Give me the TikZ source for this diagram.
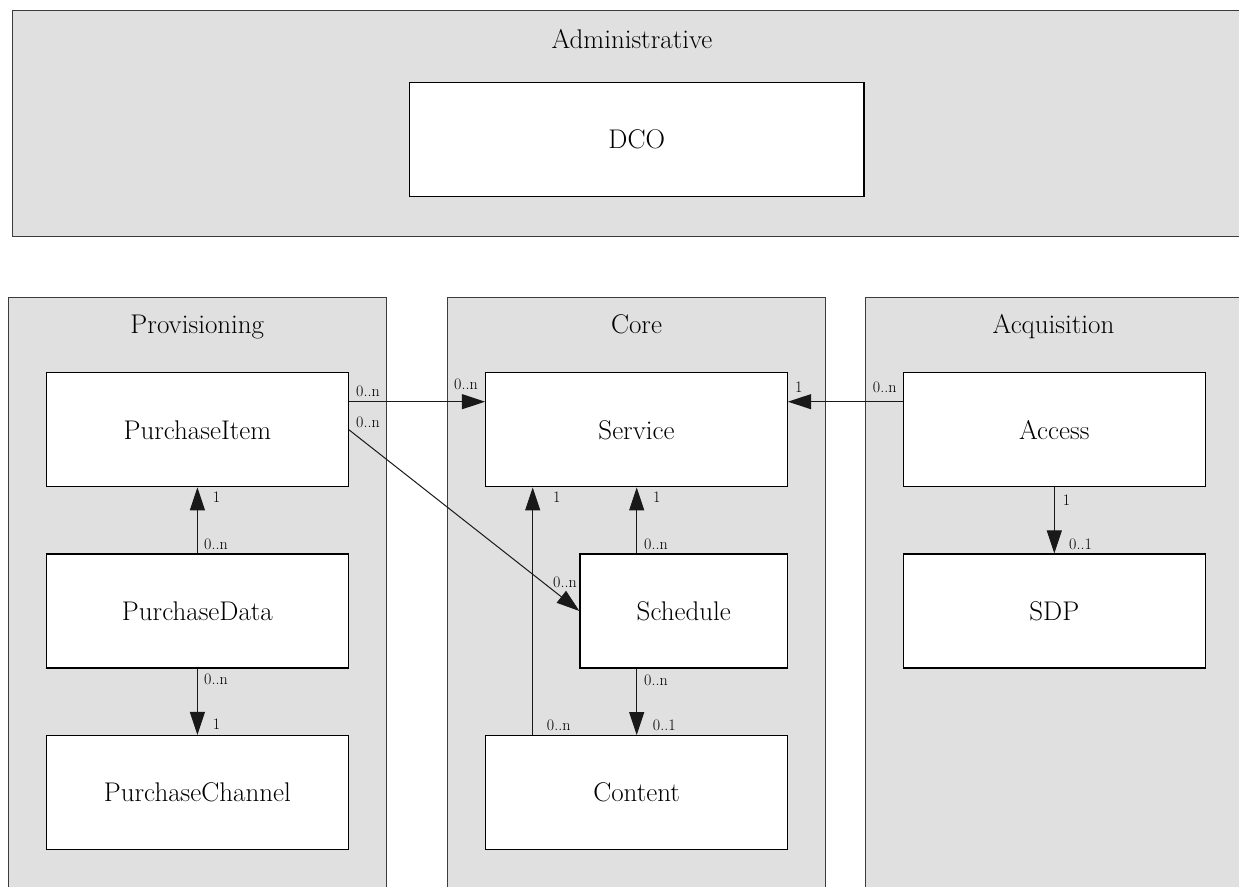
\documentclass[tikz,border=0pt]{standalone}
\usepackage{fontspec}
\setmainfont{Latin Modern Roman}
\usetikzlibrary{arrows.meta}
\definecolor{groupfill}{RGB}{224,224,224}
\definecolor{groupline}{RGB}{60,60,60}
\tikzset{
  group/.style={draw=groupline, line width=1.1pt, fill=groupfill},
  grouptitle/.style={anchor=base, inner sep=0pt, font=\fontsize{27}{32}\selectfont},
  entity/.style={draw=black, line width=1.1pt, fill=white, rectangle, inner sep=0pt,
    minimum height=114pt, font=\fontsize{27}{32}\selectfont},
  wide/.style={minimum width=302pt},
  mult/.style={anchor=base west, inner sep=0pt, font=\fontsize{16}{19}\selectfont},
  assoc/.style={draw=black!90, line width=1pt, -{Triangle[length=23pt,width=15pt]}}
}
\begin{document}
\begin{tikzpicture}[x=1pt, y=-1pt]
  \useasboundingbox (0,0) rectangle (1239,886);
  \begin{scope}
    \clip (0,0) rectangle (1239,886);
    % package frames
    \draw[group] (12.6,10.3) rectangle (1252,236.7);
    \draw[group] (8.3,297.7) rectangle (386.3,900);
    \draw[group] (447.3,297.7) rectangle (825.7,900);
    \draw[group] (865.3,297.7) rectangle (1242,900);
  \end{scope}
  \node[grouptitle] (tadmin) at (632,48) {Administrative};
  \node[grouptitle] (tprov) at (197.3,333.5) {Provisioning};
  \node[grouptitle] (tcore) at (636.5,333.5) {Core};
  \node[grouptitle] (tacq) at (1053.5,333.5) {Acquisition};

  % classes
  \node[entity, minimum width=454.5pt] (dco) at (636.75,139.7) {DCO};
  \node[entity, wide] (pi) at (197.4,429.8) {PurchaseItem};
  \node[entity, wide] (pd) at (197.4,611) {PurchaseData};
  \node[entity, wide] (pc) at (197.4,792.5) {PurchaseChannel};
  \node[entity, wide] (service) at (636.5,429.8) {Service};
  \node[entity, minimum width=207.7pt] (schedule) at (683.8,611) {Schedule};
  \node[entity, wide] (content) at (636.6,792.6) {Content};
  \node[entity, wide] (access) at (1054.3,429.8) {Access};
  \node[entity, wide] (sdp) at (1054.3,611) {SDP};

  % routing guides
  \coordinate (row) at (0,401.7);
  \coordinate (colA) at (532.7,0);
  \coordinate (colB) at (636.7,0);

  % associations
  \draw[assoc] (pi.east |- row) -- (service.west |- row);
  \draw[assoc] (pi.east) -- (schedule.west);
  \draw[assoc] (access.west |- row) -- (service.east |- row);
  \draw[assoc] (access.south) -- (sdp.north);
  \draw[assoc] (pd.north) -- (pi.south);
  \draw[assoc] (pd.south) -- (pc.north);
  \draw[assoc] (content.north -| colA) -- (service.south -| colA);
  \draw[assoc] (schedule.north -| colB) -- (service.south -| colB);
  \draw[assoc] (schedule.south -| colB) -- (content.north -| colB);

  % multiplicities
  \node[mult] (m1) at (356,396.7) {0..n};
  \node[mult] (m2) at (454,389) {0..n};
  \node[mult] (m3) at (356,427) {0..n};
  \node[mult] (m4) at (553,587.5) {0..n};
  \node[mult] (m5) at (795,392) {1};
  \node[mult] (m6) at (872.7,392) {0..n};
  \node[mult] (m7) at (1062.7,505) {1};
  \node[mult] (m8) at (1069,549) {0..1};
  \node[mult] (m9) at (212.7,502.7) {1};
  \node[mult] (m10) at (204,549.3) {0..n};
  \node[mult] (m11) at (204,684) {0..n};
  \node[mult] (m12) at (212.7,729.3) {1};
  \node[mult] (m13) at (553,502.7) {1};
  \node[mult] (m14) at (546.7,730.7) {0..n};
  \node[mult] (m15) at (653,502.7) {1};
  \node[mult] (m16) at (644,549) {0..n};
  \node[mult] (m17) at (644,685) {0..n};
  \node[mult] (m18) at (652.7,730.7) {0..1};
\end{tikzpicture}
\end{document}
